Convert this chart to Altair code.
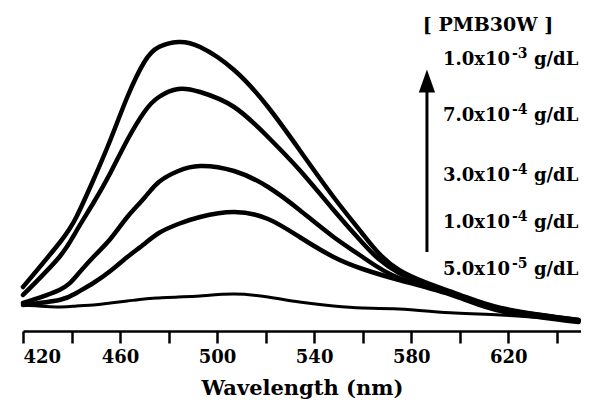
import altair as alt
import pandas as pd

# wavelength grid (nm)
wavelength = [420, 435, 442, 449, 456, 463, 470, 476, 484, 493, 507, 521, 534, 548, 560, 575, 598, 617, 649]

# emission intensity (arbitrary units) for each PMB30W concentration
i_1e3 = [44, 88, 114, 151, 191, 234, 269, 284, 289, 284, 261, 224, 181, 134, 97, 61, 38, 23, 11]
i_7e4 = [36, 74, 100, 128, 158, 191, 219, 234, 242, 239, 224, 194, 161, 121, 88, 58, 37, 22, 11]
i_3e4 = [28, 41, 55, 74, 92, 114, 133, 149, 160, 165, 160, 144, 121, 94, 74, 53, 36, 21, 10]
i_1e4 = [26, 31, 38, 48, 60, 74, 87, 98, 107, 114, 119, 112, 94, 74, 62, 51, 35, 20, 9]
i_5e5 = [26, 24, 25, 26, 28, 30, 32, 33, 34, 35, 37, 34, 29, 25, 23, 22, 18, 16, 11]

series_names = ["1.0x10-3", "7.0x10-4", "3.0x10-4", "1.0x10-4", "5.0x10-5"]
series_vals = [i_1e3, i_7e4, i_3e4, i_1e4, i_5e5]
series_width = [4.5, 4.5, 4.5, 4.5, 3]

# label texts
label_base = ["1.0x10", "7.0x10", "3.0x10", "1.0x10", "5.0x10"]
label_exp = ["-3", "-4", "-4", "-4", "-5"]
label_unit = "g/dL"
legend_title = "[ PMB30W ]"
x_title = "Wavelength (nm)"

FONT = "DejaVu Serif"

rows = []
for name, vals, w in zip(series_names, series_vals, series_width):
    for x, y in zip(wavelength, vals):
        rows.append({"wl": x, "I": y, "series": name, "sw": w})
df = pd.DataFrame(rows)

xscale = alt.Scale(domain=[420, 650], nice=False, zero=False)
yscale = alt.Scale(domain=[0, 300], nice=False, zero=True)

xaxis = alt.Axis(
    values=list(range(420, 641, 10)),
    labelExpr="datum.value % 40 === 20 ? datum.label : ''",
    title=x_title,
    titleFont=FONT, titleFontSize=21, titleFontWeight="bold", titleColor="black",
    titlePadding=11,
    labelFont=FONT, labelFontSize=18, labelFontWeight="bold", labelColor="black",
    labelPadding=5,
    domainColor="black", domainWidth=2.5,
    tickColor="black", tickWidth=2.5,
    tickSize={"condition": {"test": "datum.value % 20 === 0", "value": 12}, "value": 7},
    grid=False,
)

lines = alt.Chart(df).mark_line(color="black", interpolate="natural", strokeCap="round").encode(
    x=alt.X("wl:Q", scale=xscale, axis=xaxis),
    y=alt.Y("I:Q", scale=yscale, axis=None),
    detail="series:N",
    strokeWidth=alt.StrokeWidth("sw:Q", scale=None, legend=None),
)

# annotation anchors (data space)
lab_x = 593.1
lab_y = [266, 210, 150, 103, 56]
ann = pd.DataFrame({
    "x": [lab_x] * 5,
    "y": lab_y,
    "base": label_base,
    "exp": label_exp,
    "unit": [label_unit] * 5,
})

base_txt = alt.Chart(ann).mark_text(
    align="left", baseline="alphabetic", font=FONT, fontSize=18, fontWeight="bold", color="black"
).encode(x=alt.X("x:Q", scale=xscale), y=alt.Y("y:Q", scale=yscale), text="base:N")

exp_txt = alt.Chart(ann).mark_text(
    align="left", baseline="alphabetic", font=FONT, fontSize=14, fontWeight="bold", color="black",
    dx=69, dy=-7
).encode(x=alt.X("x:Q", scale=xscale), y=alt.Y("y:Q", scale=yscale), text="exp:N")

unit_txt = alt.Chart(ann).mark_text(
    align="left", baseline="alphabetic", font=FONT, fontSize=18, fontWeight="bold", color="black",
    dx=91
).encode(x=alt.X("x:Q", scale=xscale), y=alt.Y("y:Q", scale=yscale), text="unit:N")

title_df = pd.DataFrame({"x": [584.8], "y": [300], "t": [legend_title]})
title_txt = alt.Chart(title_df).mark_text(
    align="left", baseline="alphabetic", font=FONT, fontSize=19, fontWeight="bold", color="black"
).encode(x=alt.X("x:Q", scale=xscale), y=alt.Y("y:Q", scale=yscale), text="t:N")

# arrow
arrow_df = pd.DataFrame({"x": [586.5], "y1": [79], "y2": [246]})
shaft = alt.Chart(arrow_df).mark_rule(color="black", strokeWidth=3).encode(
    x=alt.X("x:Q", scale=xscale), y=alt.Y("y1:Q", scale=yscale), y2="y2:Q"
)
head_df = pd.DataFrame({"x": [586.5], "y": [250]})
head = alt.Chart(head_df).mark_point(
    shape="M -0.7 1 L 0 -1 L 0.7 1 Z", filled=True, color="black", opacity=1, size=540, strokeWidth=0
).encode(x=alt.X("x:Q", scale=xscale), y=alt.Y("y:Q", scale=yscale))

chart = alt.layer(lines, shaft, head, base_txt, exp_txt, unit_txt, title_txt).properties(
    width=558, height=300,
    autosize=alt.AutoSizeParams(type="none"),
    padding={"left": 15, "top": 23, "right": 0, "bottom": 72},
    background="white",
).configure_view(strokeWidth=0, strokeOpacity=0)

chart.save("out.html", embed_options={"renderer": "svg", "actions": False})
